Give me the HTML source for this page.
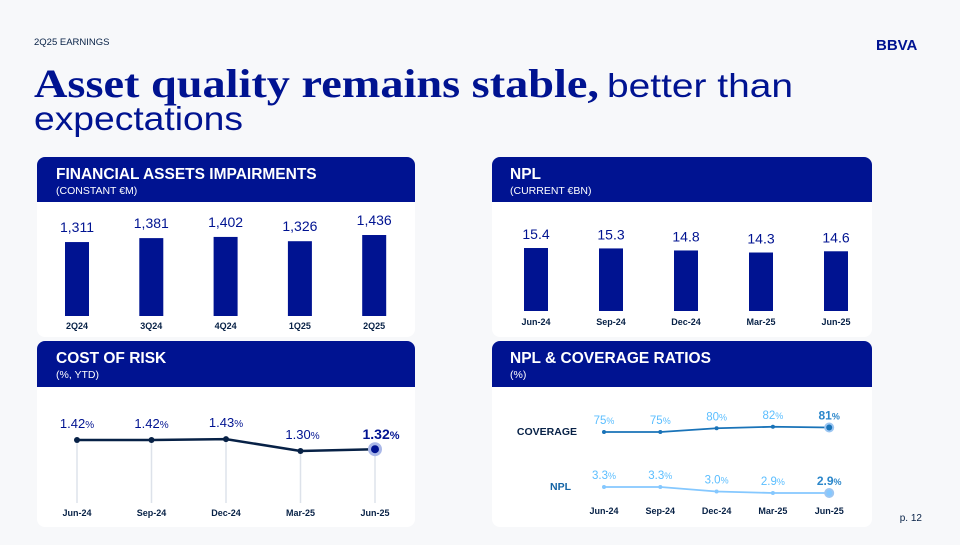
<!DOCTYPE html>
<html><head><meta charset="utf-8">
<style>
html,body{margin:0;padding:0;background:#f7f8fa;}
body{width:960px;height:540px;overflow:hidden;font-family:"Liberation Sans",sans-serif;}
svg text{font-family:"Liberation Sans",sans-serif;}
</style></head><body>
<svg id="s" width="960" height="540" viewBox="0 0 960 540" xmlns="http://www.w3.org/2000/svg">
<rect x="0" y="0" width="960" height="540" fill="#f7f8fa"/>
<text x="34" y="45" font-size="9.5" fill="#072146">2Q25 EARNINGS</text>
<text x="876" y="50" font-size="15" font-weight="bold" fill="#001391">BBVA</text>
<text x="34" y="97" font-size="40" fill="#001391"><tspan font-weight="bold" style="font-family:'Liberation Serif',serif" textLength="565" lengthAdjust="spacingAndGlyphs">Asset quality remains stable,</tspan><tspan font-size="33" dx="8" textLength="186" lengthAdjust="spacingAndGlyphs">better than</tspan></text>
<text x="34" y="130" font-size="33" fill="#001391" textLength="209" lengthAdjust="spacingAndGlyphs">expectations</text>

<g>
<rect x="37" y="157" width="378" height="180" rx="8" fill="#fff"/>
<path d="M37 202 V165 a8 8 0 0 1 8 -8 H407 a8 8 0 0 1 8 8 V202 Z" fill="#001391"/>
<text x="56" y="179" font-size="15.5" font-weight="bold" fill="#fff">FINANCIAL ASSETS IMPAIRMENTS</text>
<text x="56" y="194" font-size="10.5" fill="#fff">(CONSTANT €M)</text>
</g>
<g>
<rect x="492" y="157" width="380" height="180" rx="8" fill="#fff"/>
<path d="M492 202 V165 a8 8 0 0 1 8 -8 H864 a8 8 0 0 1 8 8 V202 Z" fill="#001391"/>
<text x="510" y="179" font-size="15.5" font-weight="bold" fill="#fff">NPL</text>
<text x="510" y="194" font-size="10.5" fill="#fff">(CURRENT €BN)</text>
</g>
<g>
<rect x="37" y="341" width="378" height="186" rx="8" fill="#fff"/>
<path d="M37 387 V349 a8 8 0 0 1 8 -8 H407 a8 8 0 0 1 8 8 V387 Z" fill="#001391"/>
<text x="56" y="363" font-size="15.5" font-weight="bold" fill="#fff">COST OF RISK</text>
<text x="56" y="378" font-size="10.5" fill="#fff">(%, YTD)</text>
</g>
<g>
<rect x="492" y="341" width="380" height="186" rx="8" fill="#fff"/>
<path d="M492 387 V349 a8 8 0 0 1 8 -8 H864 a8 8 0 0 1 8 8 V387 Z" fill="#001391"/>
<text x="510" y="363" font-size="15.5" font-weight="bold" fill="#fff">NPL &amp; COVERAGE RATIOS</text>
<text x="510" y="378" font-size="10.5" fill="#fff">(%)</text>
<text x="577" y="435" font-size="10.5" font-weight="bold" fill="#072146" text-anchor="end">COVERAGE</text>
<text x="571" y="490" font-size="10.5" font-weight="bold" fill="#1464a5" text-anchor="end">NPL</text>
</g>
<text x="922" y="521" font-size="10" fill="#072146" text-anchor="end">p. 12</text>
<g id="charts"></g>
</svg>
<script>
const impCats=["2Q24","3Q24","4Q24","1Q25","2Q25"];
const impVals=[1311,1381,1402,1326,1436];
const impLabels=["1,311","1,381","1,402","1,326","1,436"];
const nplCats=["Jun-24","Sep-24","Dec-24","Mar-25","Jun-25"];
const nplVals=[15.4,15.3,14.8,14.3,14.6];
const corVals=[1.42,1.42,1.43,1.30,1.32];
const covVals=[75,75,80,82,81];
const nplRatio=[3.3,3.3,3.0,2.9,2.9];

const NS="http://www.w3.org/2000/svg";
const g=document.getElementById('charts');
function mk(t,a,txt){const e=document.createElementNS(NS,t);for(const k in a)e.setAttribute(k,a[k]);if(txt!==undefined)e.textContent=txt;g.appendChild(e);return e;}

const impX=i=>77+i*74.3;
const impY=v=>316-v*0.0564;
impVals.forEach((v,i)=>{
  const b=mk('rect',{x:impX(i)-12,y:impY(v),width:24,height:316-impY(v),fill:'#001391'});
  
  
  const t=mk('text',{x:impX(i),y:impY(v)-10,'font-size':14,fill:'#001391','text-anchor':'middle'},impLabels[i]);
  
  
  const c=mk('text',{x:impX(i),y:329,'font-size':9,'font-weight':'bold',fill:'#072146','text-anchor':'middle'},impCats[i]);
  
  
});
const nX=i=>536+i*75;
const nY=v=>311-v*4.09;
nplVals.forEach((v,i)=>{
  const b=mk('rect',{x:nX(i)-12,y:nY(v),width:24,height:311-nY(v),fill:'#001391'});
  
  
  const t=mk('text',{x:nX(i),y:nY(v)-9,'font-size':14,fill:'#001391','text-anchor':'middle'},v.toFixed(1));
  
  
  const c=mk('text',{x:nX(i),y:325,'font-size':9,'font-weight':'bold',fill:'#072146','text-anchor':'middle'},nplCats[i]);
  
  
});
const cX=i=>77+i*74.5;
const cY=v=>440-(v-1.42)*92;
corVals.forEach((v,i)=>{
  const l=mk('line',{x1:cX(i),y1:cY(v),x2:cX(i),y2:503,stroke:'#dde2ea','stroke-width':1.5});
  
  
});
const cp=mk('polyline',{points:corVals.map((v,i)=>cX(i)+','+cY(v)).join(' '),fill:'none',stroke:'#072146','stroke-width':2.5});


corVals.forEach((v,i)=>{
  const last=i===corVals.length-1;
  if(last){const h=mk('circle',{cx:cX(i),cy:cY(v),r:7,fill:'#aab8e8'});}
  const p=mk('circle',{cx:cX(i),cy:cY(v),r:last?4:3,fill:last?'#001391':'#072146'});
  
  
  const t=mk('text',{x:cX(i)+(i===3?2:(last?6:0)),y:cY(v)-(last?10:12),'font-size':last?14:13,'font-weight':last?'bold':'normal',fill:'#001391','text-anchor':'middle'});
  t.innerHTML=v.toFixed(2)+'<tspan font-size="'+(last?11:10)+'">%</tspan>';
  
  
  const c=mk('text',{x:cX(i),y:516,'font-size':9,'font-weight':'bold',fill:'#072146','text-anchor':'middle'},nplCats[i]);
  
  
});
const rX=i=>604+i*56.3;
const covY=v=>432-(v-75)*0.75;
const npY=v=>487+(3.3-v)*15;
function series(vals,yf,color,lblColor,name,fmt){
  const pl=mk('polyline',{points:vals.map((v,i)=>rX(i)+','+yf(v)).join(' '),fill:'none',stroke:color,'stroke-width':1.8});
  
  
  vals.forEach((v,i)=>{
    const last=i===vals.length-1;
    if(last){const h=mk('circle',{cx:rX(i),cy:yf(v),r:5,fill:'#9cc6f2'});}
    const p=mk('circle',{cx:rX(i),cy:yf(v),r:last?3:2,fill:color});
    
    
    const t=mk('text',{x:rX(i),y:yf(v)-8,'font-size':last?12:11.5,'font-weight':last?'bold':'normal',fill:last?'#2a86ca':lblColor,'text-anchor':'middle'});
    t.innerHTML=fmt(v)+'<tspan font-size="9">%</tspan>';
    
    
  });
}
series(covVals,covY,'#1973b8','#5bbeff','coverage',v=>v);
series(nplRatio,npY,'#85c8ff','#5bbeff','npl-ratio',v=>v.toFixed(1));
nplCats.forEach((c,i)=>{
  const t=mk('text',{x:rX(i),y:514,'font-size':9,'font-weight':'bold',fill:'#072146','text-anchor':'middle'},c);
  
  
});
</script>
</body></html>
